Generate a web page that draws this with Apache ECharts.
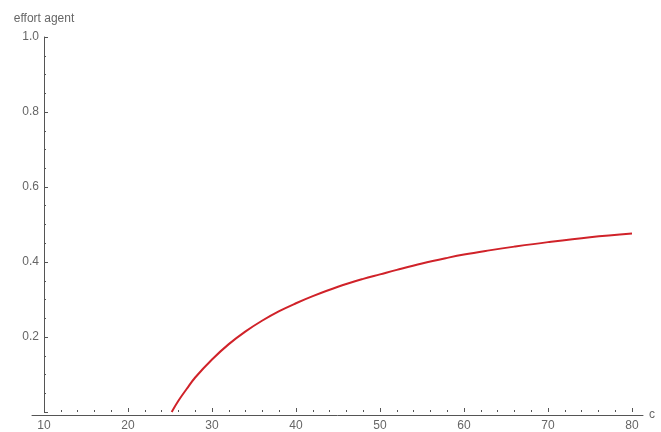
<!DOCTYPE html>
<html>
<head>
<meta charset="utf-8">
<script src="https://cdn.jsdelivr.net/npm/echarts@6/dist/echarts.min.js"></script>
<style>html,body{margin:0;padding:0;background:#fff}#c{width:661px;height:432px}</style>
</head>
<body>
<div id="c"></div>
<script>
const cValues = [25.2, 26, 27, 28, 30, 32, 34, 36, 38, 40, 42, 45, 48, 50, 52, 55, 58, 60, 63, 66, 70, 75, 80];
const effortValues = [0, 0.03, 0.062, 0.092, 0.14, 0.181, 0.215, 0.244, 0.269, 0.29, 0.309, 0.334, 0.355, 0.367, 0.379, 0.396, 0.411, 0.42, 0.431, 0.441, 0.453, 0.466, 0.476];
const xTicks = [10, 20, 30, 40, 50, 60, 70, 80];
const yTicks = [0.2, 0.4, 0.6, 0.8, 1.0];

const axisColor = '#555';
const labelColor = '#666';
const font = 'Liberation Sans, Arial, sans-serif';

const chart = echarts.init(document.getElementById('c'));
chart.setOption({
  animation: false,
  grid: [
    {left: 32, right: 18, top: 37, bottom: 17},
    {left: 44, right: 29, top: 37, bottom: 17}
  ],
  xAxis: [
    {
      gridIndex: 0, type: 'value', min: 0, max: 1,
      axisLine: {show: true, lineStyle: {color: axisColor, width: 1}},
      axisTick: {show: false}, axisLabel: {show: false}, splitLine: {show: false},
      name: 'c', nameLocation: 'end', nameGap: 6,
      nameTextStyle: {color: labelColor, fontSize: 12, fontFamily: font}
    },
    {
      gridIndex: 1, type: 'value', min: xTicks[0], max: xTicks[xTicks.length - 1], interval: 10,
      axisLine: {show: false},
      axisTick: {show: true, inside: true, length: 4, lineStyle: {color: axisColor}},
      minorTick: {show: true, splitNumber: 5, length: 2, lineStyle: {color: axisColor}},
      axisLabel: {color: labelColor, fontSize: 12, fontFamily: font, margin: 8,
        formatter: v => xTicks.includes(v) ? String(v) : ''},
      splitLine: {show: false}
    }
  ],
  yAxis: [
    {gridIndex: 0, type: 'value', min: 0, max: 1, show: false},
    {
      gridIndex: 1, type: 'value', min: 0, max: 1, interval: 0.2,
      axisLine: {show: true, onZero: false, lineStyle: {color: axisColor, width: 1}},
      axisTick: {show: true, inside: true, length: 4, lineStyle: {color: axisColor}},
      minorTick: {show: true, splitNumber: 4, length: 2, lineStyle: {color: axisColor}},
      axisLabel: {color: labelColor, fontSize: 12, fontFamily: font, margin: 5,
        formatter: v => yTicks.some(t => Math.abs(t - v) < 1e-9) ? v.toFixed(1) : ''},
      splitLine: {show: false},
      name: 'effort agent', nameLocation: 'end', nameGap: 12,
      nameTextStyle: {color: labelColor, fontSize: 12, fontFamily: font}
    }
  ],
  series: [{
    type: 'line', xAxisIndex: 1, yAxisIndex: 1,
    data: cValues.map((c, i) => [c, effortValues[i]]),
    smooth: 0.4, showSymbol: false,
    lineStyle: {color: '#d02229', width: 2}
  }]
});
</script>
</body>
</html>
